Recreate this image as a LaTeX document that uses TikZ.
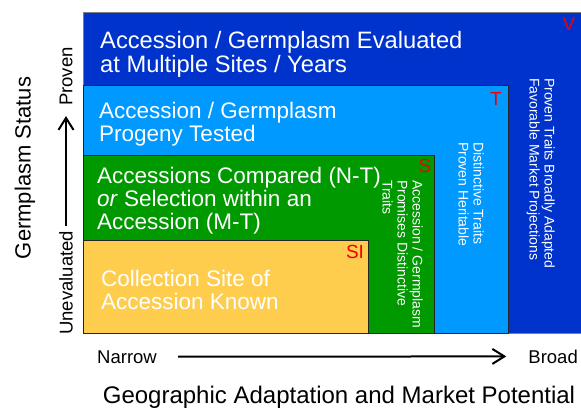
\documentclass[tikz,border=0pt]{standalone}
\usepackage{fontspec}
\setmainfont{Liberation Sans}
\usetikzlibrary{arrows.meta}

\definecolor{evalblue}{HTML}{0033CC}
\definecolor{testblue}{HTML}{0099FF}
\definecolor{compgreen}{HTML}{009900}
\definecolor{siteyellow}{HTML}{FFCD4D}
\definecolor{tagred}{HTML}{F00000}

\begin{document}
\begin{tikzpicture}[x=1pt,y=-1pt,
  level/.style={draw=black!85, line width=0.8pt},
  boxtext/.style={anchor=north west, inner sep=0pt, align=left, text=white,
    font=\fontsize{22.5}{23}\selectfont},
  sidetext/.style={anchor=north west, inner sep=0pt, align=left, text=white,
    rotate=-90, font=\fontsize{14}{15}\selectfont},
  tag/.style={text=tagred, inner sep=0pt, font=\fontsize{19}{19}\selectfont},
  axislabel/.style={inner sep=0pt, font=\fontsize{18.5}{19}\selectfont},
  axisarrow/.style={line width=2pt, -{Straight Barb[length=12pt,width=15pt]}}]

\useasboundingbox (0,0) rectangle (581,407);

% nested levels, widest first
\fill[evalblue] (83,12) rectangle (581,333);
\draw[level, draw=black!50] (581,12) -- (83,12) -- (83,333) -- (581,333);
\filldraw[level, fill=testblue] (83,85) rectangle (508,333);
\filldraw[level, fill=compgreen] (83,155) rectangle (434,333);
\filldraw[level, fill=siteyellow] (83,240) rectangle (368,333);

% level tags
\node[tag] (tagV) at (569,24) {V};
\node[tag] (tagT) at (496,99) {T};
\node[tag] (tagS) at (425,166) {S};
\node[tag] (tagSI) at (355,252) {SI};

% horizontal texts
\node[boxtext, font=\fontsize{23.7}{24}\selectfont] (evaltext) at (100,31)
  {Accession / Germplasm Evaluated\\at Multiple Sites / Years};
\node[boxtext] (testtext) at (99,102)
  {Accession / Germplasm\\Progeny Tested};
\node[boxtext] (comptext) at (97,167)
  {Accessions Compared (N-T)\\\textit{or} Selection within an\\Accession (M-T)};
\node[boxtext] (sitetext) at (101,270)
  {Collection Site of\\Accession Known};

% vertical texts
\node[sidetext] (promtext) at (423,180)
  {Accession / Germplasm\\Promises Distinctive\\Traits};
\node[sidetext] (herittext) at (484,142)
  {Distinctive Traits\\Proven Heritable};
\node[sidetext] (adapttext) at (555,78)
  {Proven Traits Broadly Adapted\\Favorable Market Projections};

% status axis
\node[axislabel, font=\fontsize{22}{22}\selectfont, rotate=90] (status) at (25,168)
  {Germplasm Status};
\node[axislabel, rotate=90, anchor=west] (uneval) at (66,335) {Unevaluated};
\node[axislabel, rotate=90, anchor=east] (proven) at (66,47) {Proven};
\draw[axisarrow, shorten <=5pt, shorten >=10pt] (uneval.east) -- (proven.west);

% geographic axis
\node[axislabel, anchor=base west] (narrow) at (97,363) {Narrow};
\node[axislabel, anchor=base east] (broad) at (578,363) {Broad};
\draw[axisarrow, shorten <=21pt, shorten >=22pt] (narrow.east) -- (broad.west);
\node[inner sep=0pt, anchor=base, font=\fontsize{24}{24}\selectfont] (geotitle)
  at (339,403) {Geographic Adaptation and Market Potential};
\end{tikzpicture}
\end{document}
